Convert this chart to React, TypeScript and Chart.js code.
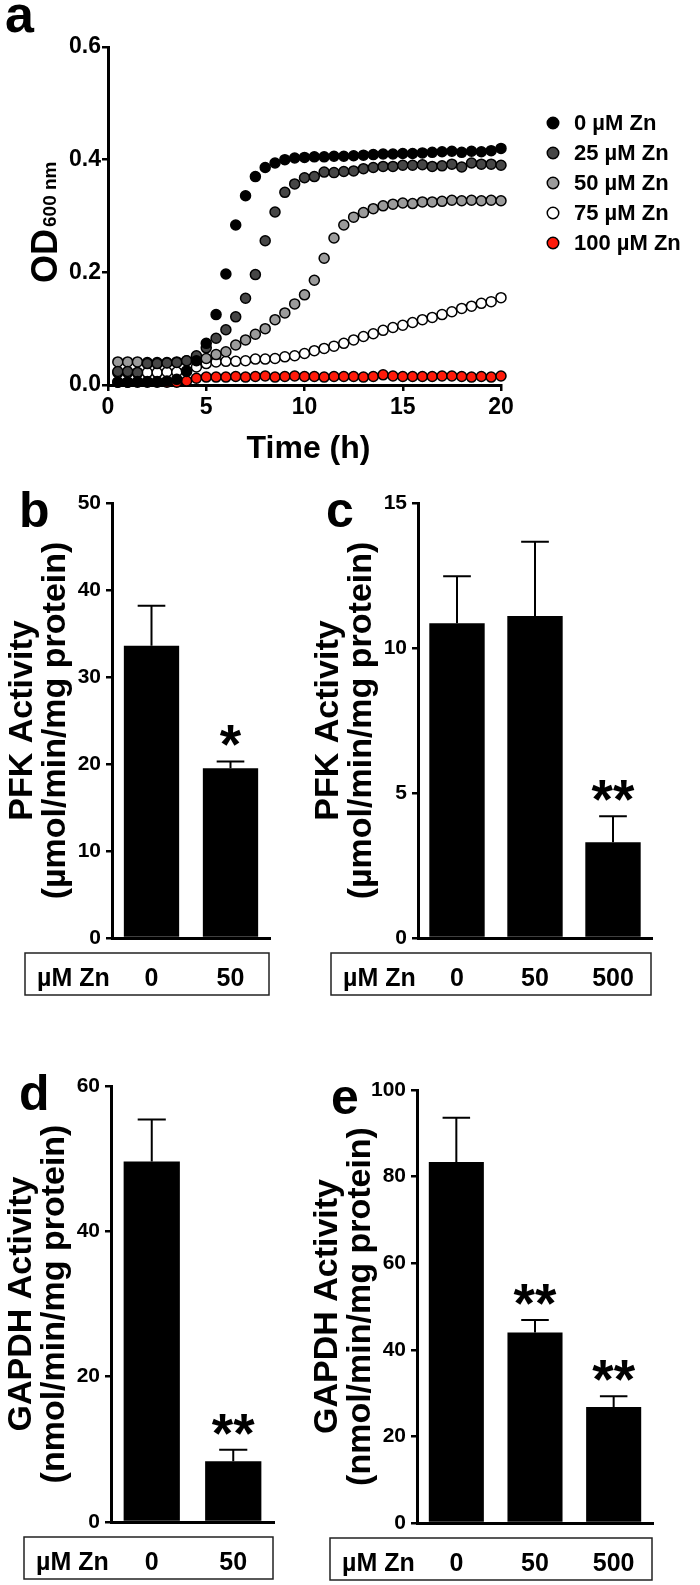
import React, { useEffect, useRef } from "react";
import { Chart, registerables } from "chart.js";

Chart.register(...registerables);

const FONT = "'Liberation Sans', Arial, Helvetica, sans-serif";

// ---------- Panel a: growth curves ----------
const timeHours = [0.5, 1, 1.5, 2, 2.5, 3, 3.5, 4, 4.5, 5, 5.5, 6, 6.5, 7, 7.5, 8, 8.5, 9, 9.5, 10, 10.5, 11, 11.5, 12, 12.5, 13, 13.5, 14, 14.5, 15, 15.5, 16, 16.5, 17, 17.5, 18, 18.5, 19, 19.5, 20];
const od0Zn = [0.005, 0.005, 0.006, 0.006, 0.006, 0.007, 0.010, 0.024, 0.043, 0.074, 0.125, 0.197, 0.284, 0.336, 0.370, 0.386, 0.394, 0.400, 0.403, 0.404, 0.405, 0.405, 0.406, 0.406, 0.407, 0.408, 0.409, 0.410, 0.410, 0.411, 0.411, 0.412, 0.413, 0.414, 0.415, 0.413, 0.415, 0.414, 0.416, 0.420];
const od25Zn = [0.024, 0.024, 0.022, 0.038, 0.038, 0.039, 0.040, 0.043, 0.052, 0.066, 0.083, 0.098, 0.121, 0.154, 0.196, 0.256, 0.307, 0.342, 0.357, 0.368, 0.370, 0.378, 0.377, 0.379, 0.380, 0.384, 0.386, 0.388, 0.388, 0.390, 0.390, 0.391, 0.388, 0.389, 0.392, 0.387, 0.394, 0.392, 0.392, 0.390];
const od50Zn = [0.041, 0.041, 0.041, 0.040, 0.040, 0.040, 0.041, 0.043, 0.045, 0.047, 0.054, 0.059, 0.071, 0.080, 0.090, 0.100, 0.116, 0.128, 0.144, 0.160, 0.186, 0.225, 0.261, 0.284, 0.298, 0.306, 0.313, 0.318, 0.321, 0.323, 0.322, 0.325, 0.325, 0.326, 0.328, 0.327, 0.328, 0.327, 0.328, 0.327];
const od75Zn = [0.022, 0.022, 0.022, 0.022, 0.022, 0.023, 0.023, 0.025, 0.032, 0.038, 0.041, 0.042, 0.042, 0.043, 0.046, 0.046, 0.047, 0.050, 0.052, 0.056, 0.061, 0.065, 0.069, 0.074, 0.080, 0.086, 0.091, 0.097, 0.102, 0.106, 0.111, 0.116, 0.120, 0.125, 0.130, 0.136, 0.140, 0.145, 0.148, 0.155];
const od100Zn = [0.005, 0.005, 0.005, 0.005, 0.005, 0.005, 0.005, 0.007, 0.012, 0.014, 0.014, 0.014, 0.015, 0.014, 0.015, 0.016, 0.014, 0.015, 0.016, 0.015, 0.015, 0.014, 0.015, 0.015, 0.015, 0.014, 0.015, 0.018, 0.016, 0.015, 0.015, 0.015, 0.015, 0.016, 0.016, 0.015, 0.014, 0.015, 0.014, 0.016];
const growthNames = ["0 µM Zn", "25 µM Zn", "50 µM Zn", "75 µM Zn", "100 µM Zn"];

// ---------- Panel b: PFK ----------
const znB = ["0", "50"];
const pfkB = [33.6, 19.5];
const pfkBErr = [4.6, 0.8];
const starsB = ["", "*"];

// ---------- Panel c: PFK ----------
const znC = ["0", "50", "500"];
const pfkC = [10.85, 11.1, 3.3];
const pfkCErr = [1.62, 2.56, 0.9];
const starsC = ["", "", "**"];

// ---------- Panel d: GAPDH ----------
const znD = ["0", "50"];
const gapdhD = [49.6, 8.35];
const gapdhDErr = [5.8, 1.6];
const starsD = ["", "**"];

// ---------- Panel e: GAPDH ----------
const znE = ["0", "50", "500"];
const gapdhE = [83.4, 44.0, 26.8];
const gapdhEErr = [10.2, 2.9, 2.5];
const starsE = ["", "**", "**"];

const pointFills = ["#000000", "#464646", "#9b9b9b", "#ffffff", "#ff1a0a"];

function GrowthPanel() {
  const ref = useRef<HTMLCanvasElement>(null);
  useEffect(() => {
    const canvas = ref.current as HTMLCanvasElement;
    const series = [od0Zn, od25Zn, od50Zn, od75Zn, od100Zn];
    const datasets = series.map((s, i) => ({
      label: growthNames[i],
      data: s.map((y, j) => ({ x: timeHours[j], y })),
      showLine: false,
      pointRadius: 5,
      pointHoverRadius: 5,
      pointBackgroundColor: pointFills[i],
      pointBorderColor: "#000",
      pointBorderWidth: 1.5,
      backgroundColor: pointFills[i],
      borderColor: "#000",
      clip: false as any,
    }));
    const decor = {
      id: "growthDecor",
      afterDraw(chart: any) {
        const { ctx, chartArea } = chart;
        ctx.save();
        ctx.fillStyle = "#000";
        ctx.textAlign = "left";
        ctx.textBaseline = "alphabetic";
        ctx.font = `bold 52px ${FONT}`;
        ctx.fillText("a", 5, 32);
        ctx.font = `bold 32px ${FONT}`;
        ctx.textAlign = "center";
        ctx.fillText("Time (h)", (chartArea.left + chartArea.right) / 2 + 4, 458);
        // rotated y title with subscript
        ctx.save();
        ctx.translate(57, 283);
        ctx.rotate(-Math.PI / 2);
        ctx.textAlign = "left";
        ctx.font = `bold 36px ${FONT}`;
        ctx.fillText("OD", 0, 0);
        const w = ctx.measureText("OD").width;
        ctx.font = `bold 19px ${FONT}`;
        ctx.fillText("600 nm", w + 2, -1);
        ctx.restore();
        // legend
        const lx = 553;
        growthNames.forEach((name, i) => {
          const y = 123 + i * 30;
          ctx.beginPath();
          ctx.arc(lx, y, 5.75, 0, Math.PI * 2);
          ctx.fillStyle = pointFills[i];
          ctx.fill();
          ctx.lineWidth = 1.5;
          ctx.strokeStyle = "#000";
          ctx.stroke();
          ctx.fillStyle = "#000";
          ctx.font = `bold 22px ${FONT}`;
          ctx.textAlign = "left";
          ctx.textBaseline = "middle";
          ctx.fillText(name, 574, y + 1);
        });
        ctx.restore();
      },
    };
    const tickFont = { family: FONT, size: 23, weight: "bold" as const };
    const chart = new Chart(canvas, {
      type: "scatter",
      data: { datasets },
      options: {
        animation: false,
        responsive: false,
        devicePixelRatio: 1,
        events: [],
        layout: { padding: { left: 0, top: 47, right: 199, bottom: 0 } },
        plugins: { legend: { display: false }, tooltip: { enabled: false } },
        scales: {
          x: {
            type: "linear",
            min: 0,
            max: 20,
            afterFit: (s: any) => { s.height = 85; },
            ticks: { stepSize: 5, color: "#000", font: tickFont, padding: 3, maxRotation: 0, autoSkip: false },
            grid: { drawOnChartArea: false, drawTicks: true, tickLength: 6, color: "#000", lineWidth: 2.5 },
            border: { display: true, color: "#000", width: 3 },
          },
          y: {
            type: "linear",
            min: 0,
            max: 0.6,
            afterFit: (s: any) => { s.width = 108; },
            ticks: { stepSize: 0.2, color: "#000", font: tickFont, padding: 1, callback: (v: any) => Number(v).toFixed(1) },
            grid: { drawOnChartArea: false, drawTicks: true, tickLength: 6, color: "#000", lineWidth: 2.5 },
            border: { display: true, color: "#000", width: 3 },
          },
        },
      } as any,
      plugins: [decor],
    });
    return () => chart.destroy();
  }, []);
  return (
    <canvas
      ref={ref}
      width={700}
      height={470}
      style={{ position: "absolute", left: 0, top: 0, width: 700, height: 470 }}
    />
  );
}

type BarProps = {
  letter: string;
  letterX: number;
  titleLines: string[];
  labels: string[];
  values: number[];
  errors: number[];
  stars: string[];
  yMax: number;
  yStep: number;
  left: number;
  top: number;
  width: number;
  height: number;
  padTop: number;
  padRight: number;
  yWidth: number;
  xHeight: number;
  barPct: number;
};

function BarPanel(p: BarProps) {
  const ref = useRef<HTMLCanvasElement>(null);
  useEffect(() => {
    const canvas = ref.current as HTMLCanvasElement;
    const decor = {
      id: "barDecor",
      afterDatasetsDraw(chart: any) {
        const { ctx } = chart;
        const meta = chart.getDatasetMeta(0);
        const ys = chart.scales.y;
        ctx.save();
        ctx.strokeStyle = "#000";
        ctx.lineWidth = 2;
        meta.data.forEach((bar: any, i: number) => {
          const topPx = ys.getPixelForValue(p.values[i] + p.errors[i]);
          const half = bar.width / 4;
          ctx.beginPath();
          ctx.moveTo(bar.x, bar.y);
          ctx.lineTo(bar.x, topPx);
          ctx.moveTo(bar.x - half, topPx);
          ctx.lineTo(bar.x + half, topPx);
          ctx.stroke();
          if (p.stars[i]) {
            ctx.fillStyle = "#000";
            ctx.font = `bold 55px ${FONT}`;
            ctx.textAlign = "center";
            ctx.textBaseline = "alphabetic";
            ctx.fillText(p.stars[i], bar.x, topPx + 2);
          }
        });
        ctx.restore();
      },
      afterDraw(chart: any) {
        const { ctx, chartArea } = chart;
        const xs = chart.scales.x;
        ctx.save();
        ctx.fillStyle = "#000";
        // panel letter
        ctx.font = `bold 50px ${FONT}`;
        ctx.textAlign = "left";
        ctx.textBaseline = "alphabetic";
        ctx.fillText(p.letter, p.letterX, chartArea.top + 24);
        // rotated y title
        const cy = (chartArea.top + chartArea.bottom) / 2;
        ctx.font = `bold 34px ${FONT}`;
        ctx.textAlign = "center";
        const offs = [-80, -47];
        p.titleLines.forEach((line, i) => {
          ctx.save();
          ctx.translate(chartArea.left + offs[i], cy);
          ctx.rotate(-Math.PI / 2);
          ctx.fillText(line, 0, 0);
          ctx.restore();
        });
        // box below axis
        const bx = chartArea.left - 87;
        const bw = chartArea.right - 1 - bx;
        const by = chartArea.bottom + 15;
        const bh = 42;
        ctx.strokeStyle = "#222";
        ctx.lineWidth = 1.5;
        ctx.strokeRect(bx, by, bw, bh);
        ctx.font = `bold 25px ${FONT}`;
        ctx.textAlign = "left";
        ctx.fillText("µM Zn", bx + 12, by + 33);
        ctx.textAlign = "center";
        chart.data.labels.forEach((lab: string, i: number) => {
          ctx.fillText(lab, xs.getPixelForValue(i), by + 33);
        });
        ctx.restore();
      },
    };
    const chart = new Chart(canvas, {
      type: "bar",
      data: {
        labels: p.labels,
        datasets: [
          {
            data: p.values,
            backgroundColor: "#000",
            borderWidth: 0,
            barPercentage: p.barPct,
            categoryPercentage: 1,
          },
        ],
      },
      options: {
        animation: false,
        responsive: false,
        devicePixelRatio: 1,
        events: [],
        layout: { padding: { left: 0, top: p.padTop, right: p.padRight, bottom: 0 } },
        plugins: { legend: { display: false }, tooltip: { enabled: false } },
        scales: {
          x: {
            afterFit: (s: any) => { s.height = p.xHeight; },
            ticks: { display: false },
            grid: { display: false },
            border: { display: true, color: "#000", width: 3 },
          },
          y: {
            min: 0,
            max: p.yMax,
            afterFit: (s: any) => { s.width = p.yWidth; },
            ticks: { stepSize: p.yStep, color: "#000", padding: 5, font: { family: FONT, size: 21, weight: "bold" } },
            grid: { drawOnChartArea: false, drawTicks: true, tickLength: 6, color: "#000", lineWidth: 2.5 },
            border: { display: true, color: "#000", width: 3 },
          },
        },
      } as any,
      plugins: [decor],
    });
    return () => chart.destroy();
  }, []);
  return (
    <canvas
      ref={ref}
      width={p.width}
      height={p.height}
      style={{ position: "absolute", left: p.left, top: p.top, width: p.width, height: p.height }}
    />
  );
}

export default function App() {
  return (
    <div
      style={{
        position: "absolute",
        left: 0,
        top: 0,
        width: 700,
        height: 1585,
        background: "#fff",
        overflow: "hidden",
      }}
    >
      <GrowthPanel />
      <BarPanel
        letter="b" letterX={19}
        titleLines={["PFK Activity", "(µmol/min/mg protein)"]}
        labels={znB} values={pfkB} errors={pfkBErr} stars={starsB}
        yMax={50} yStep={10}
        left={0} top={475} width={300} height={535}
        padTop={28} padRight={30} yWidth={112} xHeight={72} barPct={0.7}
      />
      <BarPanel
        letter="c" letterX={26}
        titleLines={["PFK Activity", "(µmol/min/mg protein)"]}
        labels={znC} values={pfkC} errors={pfkCErr} stars={starsC}
        yMax={15} yStep={5}
        left={300} top={475} width={400} height={535}
        padTop={28} padRight={48} yWidth={118} xHeight={72} barPct={0.71}
      />
      <BarPanel
        letter="d" letterX={19}
        titleLines={["GAPDH Activity", "(nmol/min/mg protein)"]}
        labels={znD} values={gapdhD} errors={gapdhDErr} stars={starsD}
        yMax={60} yStep={20}
        left={0} top={1040} width={300} height={545}
        padTop={46} padRight={26} yWidth={111} xHeight={63} barPct={0.69}
      />
      <BarPanel
        letter="e" letterX={31}
        titleLines={["GAPDH Activity", "(nmol/min/mg protein)"]}
        labels={znE} values={gapdhE} errors={gapdhEErr} stars={starsE}
        yMax={100} yStep={20}
        left={300} top={1040} width={400} height={545}
        padTop={50} padRight={47} yWidth={117} xHeight={62} barPct={0.7}
      />
    </div>
  );
}
